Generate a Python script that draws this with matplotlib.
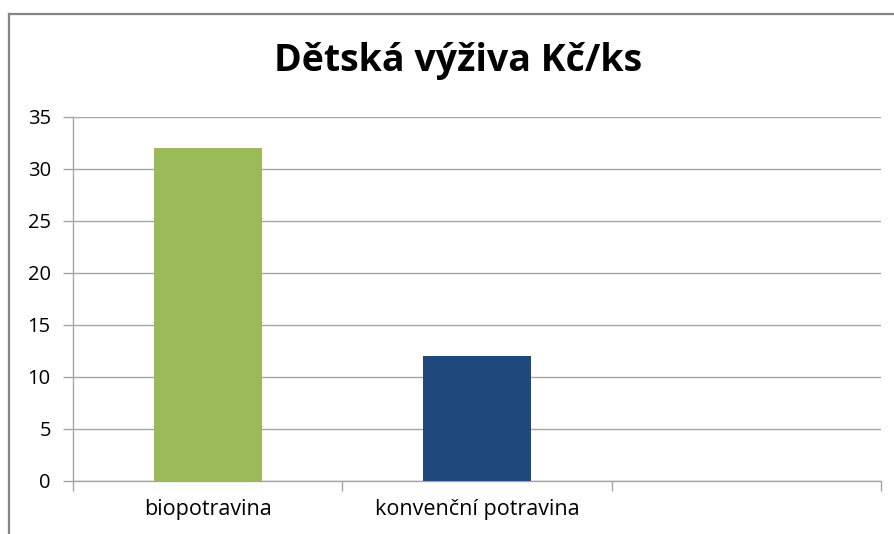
import numpy as np
import matplotlib.pyplot as plt
from matplotlib.lines import Line2D

# data
categories = ['biopotravina', 'konvenční potravina', '']
values = [32, 12, np.nan]
colors = ['#9BBB59', '#1F497D', '#4F81BD']
yticks = [0, 5, 10, 15, 20, 25, 30, 35]

plt.rcParams['font.family'] = ['Open Sans', 'DejaVu Sans']

W, H = 894, 534
fig = plt.figure(figsize=(W / 100, H / 100), dpi=100)
ax = fig.add_axes([73 / W, (H - 481) / H, (881 - 73) / W, (481 - 117) / H])

x = np.arange(len(categories))
ax.bar(x, values, width=0.4, color=colors, zorder=3)

ax.set_xlim(-0.5, len(categories) - 0.5)
ax.set_ylim(0, 35)
ax.set_yticks(yticks)
ax.set_yticklabels([str(v) for v in yticks], fontsize=14.5)
ax.yaxis.grid(True, color='#A6A6A6', linewidth=1, zorder=0)

# category labels centred, ticks at boundaries
ax.set_xticks(x)
ax.set_xticklabels(categories, fontsize=15.5)
ax.tick_params(axis='x', length=0, pad=13)
ax.set_xticks(np.arange(len(categories) + 1) - 0.5, minor=True)
ax.tick_params(axis='x', which='minor', length=7, color='#A6A6A6', width=1)
ax.tick_params(axis='y', length=7, color='#A6A6A6', width=1, pad=9)

for s in ['top', 'right']:
    ax.spines[s].set_visible(False)
for s in ['left', 'bottom']:
    ax.spines[s].set_color('#A6A6A6')
    ax.spines[s].set_linewidth(1)

fig.text(458 / W, 1 - 61 / H, 'Dětská výživa Kč/ks', ha='center', va='center',
         fontsize=27, fontweight='bold')

# chart area border (cut off at right/bottom)
fig.add_artist(Line2D([9 / W, 9 / W], [0, 1 - 14 / H], color='#868686', linewidth=1.6))
fig.add_artist(Line2D([9 / W, 1], [1 - 14 / H, 1 - 14 / H], color='#868686', linewidth=1.6))

fig.savefig('out.png', dpi=100)
